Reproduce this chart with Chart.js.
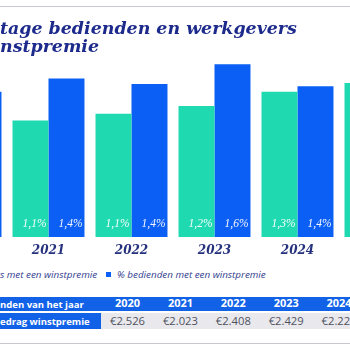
<!DOCTYPE html>
<html><head><meta charset="utf-8">
<script src="https://cdn.jsdelivr.net/npm/chart.js@4/dist/chart.umd.min.js"></script>
<style>
html,body{margin:0;padding:0;width:350px;height:350px;overflow:hidden;background:#fff;position:relative}
.t{position:absolute;white-space:nowrap;margin:0;padding:0}
.hid{position:absolute;right:100%;top:0;white-space:nowrap}
.title{font-family:"DejaVu Serif";font-style:italic;font-weight:bold;color:#1c2a8c}
.leg{font-family:"Open Sans";font-style:italic;color:#33408f}
.th{font-family:"Open Sans";font-weight:bold;color:#fff}
.td{font-family:"Open Sans";color:#50525e}
.rule{position:absolute;left:0;width:350px;height:1px;background:#c8c9ce}
.box{position:absolute}
</style>
</head><body>
<div class="rule" style="top:6px"></div>
<div class="rule" style="top:343px"></div>
<canvas id="c" width="498" height="262" style="position:absolute;left:-76px;top:0"></canvas>
<script>
// ---- data ----
const years = ['2020', '2021', '2022', '2023', '2024', '2025'];
const werkgevers = [null, 1.06, 1.12, 1.19, 1.32, 1.40];   // % werkgevers met een winstpremie
const bedienden  = [1.32, 1.44, 1.39, 1.57, 1.37, null];   // % bedienden met een winstpremie
const seriesNames = ['% werkgevers met een winstpremie', '% bedienden met een winstpremie'];
const titleLines = ['Percentage bedienden en werkgevers', 'met een winstpremie'];
const tableYears = ['2020', '2021', '2022', '2023', '2024'];
const bedragen = ['€2.526', '€2.023', '€2.408', '€2.429', '€2.224'];
const tableHeader = 'Winstpremie bedienden van het jaar';
const tableRowLabel = 'Gemiddeld bedrag winstpremie';

const TEAL = '#1fd9b1', BLUE = '#0b5ff5', HEAD = '#1262e8';

// ---- helpers ----
const mc = document.createElement('canvas').getContext('2d');
function metrics(font){ mc.font = font; const m = mc.measureText('Hg'); return {a:m.fontBoundingBoxAscent, d:m.fontBoundingBoxDescent}; }
function textW(font, s){ mc.font = font; return mc.measureText(s).width; }
function addText(cls, hidden, visible, x, baseline, size, extra){
  const el = document.createElement('div');
  el.className = 't ' + cls;
  el.style.fontSize = size + 'px';
  el.style.lineHeight = size + 'px';
  if (hidden){ const h = document.createElement('span'); h.className='hid'; h.innerHTML = hidden; el.appendChild(h); }
  el.appendChild(document.createTextNode(visible));
  document.body.appendChild(el);
  const cs = getComputedStyle(el);
  const font = `${cs.fontStyle} ${cs.fontWeight} ${size}px ${cs.fontFamily}`;
  const m = metrics(font);
  const top = baseline - ((size - (m.a + m.d)) / 2 + m.a);
  el.style.top = top + 'px';
  if (extra && extra.center){ el.style.left = (x - textW(font, visible)/2) + 'px'; }
  else el.style.left = x + 'px';
  return el;
}
function fitSize(family, style, weight, s, target){
  const w = textW(`${style} ${weight} 100px ${family}`, s);
  return 100 * target / w;
}

// ---- title ----
const tSize = fitSize('"DejaVu Serif"', 'italic', 'bold', 'tage bedienden en werkgevers', 297);
addText('title', 'Percen', 'tage bedienden en werkgevers', 0, 35, tSize);
addText('title', 'met een wi', 'nstpremie', 0, 53, tSize);

// ---- legend ----
const lSize = fitSize('"Open Sans"', 'italic', 'normal', seriesNames[1], 149);
addText('leg', '<span style="display:inline-block;width:5px;height:5px;background:'+TEAL+';margin-right:6px"></span>% werkgever', 's met een winstpremie', 0, 278.5, lSize);
const sq = document.createElement('div'); sq.className='box';
Object.assign(sq.style,{left:'106px',top:'272px',width:'5px',height:'5px',background:BLUE});
document.body.appendChild(sq);
addText('leg', '', seriesNames[1], 117, 278.5, lSize);

// ---- table ----
function rect(x,y,w,h,c){ const d=document.createElement('div'); d.className='box'; Object.assign(d.style,{left:x+'px',top:y+'px',width:w+'px',height:h+'px',background:c}); document.body.appendChild(d); }
rect(0,297,350,14,HEAD);
rect(0,313,101,16,HEAD);
rect(101,313,249,16,'#e8e8ed');
const hSize = fitSize('"Open Sans"', 'normal', 'bold', 'nden van het jaar', 84);
addText('th', 'Winstpremie bedie', 'nden van het jaar', 0, 307.8, hSize);
addText('th', 'Gemiddeld b', 'edrag winstpremie', 0, 325, hSize);
const ySize = fitSize('"Open Sans"', 'normal', 'bold', '2020', 25);
const vSize = fitSize('"Open Sans"', 'normal', 'normal', '€2.526', 35);
tableYears.forEach((y,i)=>{
  const cx = 127.5 + 52.9*i;
  addText('th', '', y, cx, 308.3, ySize, {center:true});
  addText('td', '', bedragen[i], cx, 325.5, vSize, {center:true});
});

// ---- chart ----
const valueLabels = {
  id:'valueLabels',
  afterDatasetsDraw(chart){
    const ctx = chart.ctx;
    ctx.save();
    ctx.font = 'italic 11.5px "Liberation Serif"';
    ctx.fillStyle = 'rgba(255,255,255,0.95)';
    ctx.textAlign = 'right';
    ctx.textBaseline = 'alphabetic';
    chart.data.datasets.forEach((ds,i)=>{
      chart.getDatasetMeta(i).data.forEach((bar,j)=>{
        const v = ds.data[j];
        if (v == null) return;
        const txt = v.toFixed(1).replace('.', ',') + '%';
        ctx.fillText(txt, bar.x + bar.width/2 - 2, chart.chartArea.bottom - 10);
      });
    });
    ctx.restore();
  }
};

new Chart(document.getElementById('c'), {
  type:'bar',
  data:{
    labels: years,
    datasets:[
      {label: seriesNames[0], data: werkgevers, backgroundColor: TEAL, categoryPercentage: 0.867, barPercentage: 1},
      {label: seriesNames[1], data: bedienden, backgroundColor: BLUE, categoryPercentage: 0.867, barPercentage: 1}
    ]
  },
  options:{
    responsive:false, animation:false, devicePixelRatio:1,
    layout:{padding:{top:61, left:0, right:0, bottom:0}},
    plugins:{legend:{display:false}, tooltip:{enabled:false}},
    scales:{
      x:{
        grid:{display:false, drawTicks:false}, border:{display:false},
        ticks:{padding:7, color:'#27327f', font:{family:'DejaVu Serif', style:'italic', weight:'bold', size:12}},
        afterFit(s){ s.height = 25; }
      },
      y:{display:false, min:0, max:1.6}
    }
  },
  plugins:[valueLabels]
});
</script>
</body></html>
